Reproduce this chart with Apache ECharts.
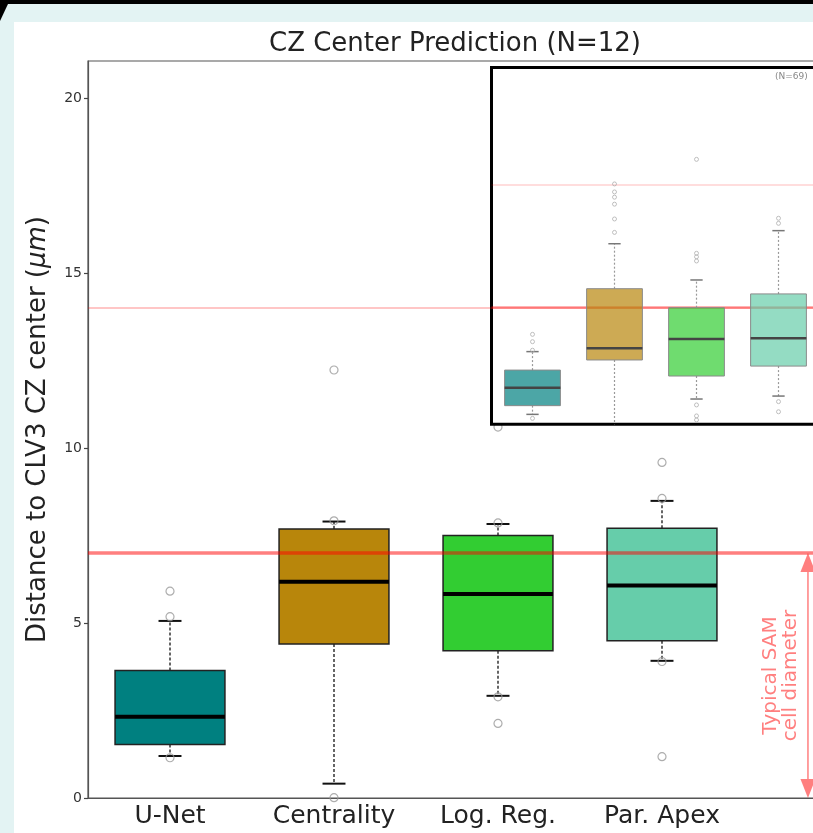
<!DOCTYPE html>
<html>
<head>
<meta charset="utf-8">
<script src="https://cdn.jsdelivr.net/npm/echarts@6/dist/echarts.min.js"></script>
<style>
  html, body { margin: 0; padding: 0; width: 813px; height: 833px; overflow: hidden; background: #e3f3f3; position: relative; }
  #topband { position: absolute; left: 0; top: 0; width: 813px; height: 4px; background: #000; }
  #corner { position: absolute; left: 0; top: 0; width: 8px; height: 21px; background: #000; clip-path: polygon(0 0, 100% 0, 100% 4px, 0 100%); }
  #chart { position: absolute; left: 14px; top: 22px; width: 900px; height: 811px; background: #fff; }
</style>
</head>
<body>
<div id="topband"></div>
<div id="corner"></div>
<div id="chart"></div>
<script>
// ---------- data ----------
const categories = ['U-Net', 'Centrality', 'Log. Reg.', 'Par. Apex'];
const yTicks = [0, 5, 10, 15, 20];
const cellDiameter = 7;           // typical SAM cell diameter (µm)

// main panel (N=12)
const mainWhiskerLow  = [1.20, 0.41, 2.92, 3.92];
const mainQ1          = [1.53, 4.40, 4.21, 4.49];
const mainMedian      = [2.32, 6.18, 5.83, 6.07];
const mainQ3          = [3.64, 7.69, 7.50, 7.71];
const mainWhiskerHigh = [5.06, 7.90, 7.83, 8.49];
const mainFliers = [
  [0, 5.91], [0, 5.18], [0, 1.15],
  [1, 12.23], [1, 7.92], [1, 0.01],
  [2, 10.60], [2, 7.86], [2, 2.89], [2, 2.13],
  [3, 9.59], [3, 8.56], [3, 3.90], [3, 1.18]
];

// inset panel (N=69)
const insetWhiskerLow  = [0.84, 0.10, 1.72, 1.89];
const insetQ1          = [1.34, 3.96, 3.04, 3.61];
const insetMedian      = [2.37, 4.63, 5.16, 5.20];
const insetQ3          = [3.38, 8.05, 6.96, 7.75];
const insetWhiskerHigh = [4.44, 10.63, 8.55, 11.38];
const insetFliers = [
  [0, 5.43], [0, 5.01], [0, 4.52], [0, 0.61],
  [1, 11.28], [1, 12.05], [1, 12.90], [1, 13.30], [1, 13.60], [1, 14.06],
  [2, 9.64], [2, 9.88], [2, 10.08], [2, 15.47], [2, 1.38], [2, 0.75], [2, 0.52],
  [3, 11.80], [3, 12.09], [3, 1.57], [3, 0.99]
];

// ---------- styles ----------
const FONT = 'DejaVu Sans';
const mainColors  = ['#008080', '#b8860b', '#32cd32', '#66cdaa'];
const insetColors = ['rgba(0,128,128,0.7)', 'rgba(184,134,11,0.7)', 'rgba(50,205,50,0.7)', 'rgba(102,205,170,0.7)'];

function boxRows(lo, q1, md, q3, hi) {
  return categories.map((c, i) => [i, lo[i], q1[i], md[i], q3[i], hi[i]]);
}

function makeBoxRenderer(cfg) {
  return function (params, api) {
    const i = api.value(0);
    const cs = params.coordSys;
    const clampY = y => Math.max(cs.y, Math.min(cs.y + cs.height, y));
    const pLo = api.coord([i, api.value(1)]);
    const pQ1 = api.coord([i, api.value(2)]);
    const pMd = api.coord([i, api.value(3)]);
    const pQ3 = api.coord([i, api.value(4)]);
    const pHi = api.coord([i, api.value(5)]);
    const band = api.size([1, 0])[0];
    const half = band * cfg.boxFrac / 2;
    const capHalf = band * cfg.capFrac / 2;
    const cx = pMd[0];
    const children = [
      { type: 'line', shape: { x1: cx, y1: pQ3[1], x2: cx, y2: clampY(pHi[1]) },
        style: { stroke: cfg.whisker, lineWidth: cfg.whiskerWidth, lineDash: cfg.dash } },
      { type: 'line', shape: { x1: cx, y1: pQ1[1], x2: cx, y2: clampY(pLo[1]) },
        style: { stroke: cfg.whisker, lineWidth: cfg.whiskerWidth, lineDash: cfg.dash } }
    ];
    [pHi, pLo].forEach(p => {
      if (p[1] >= cs.y && p[1] <= cs.y + cs.height) {
        children.push({ type: 'line', shape: { x1: cx - capHalf, y1: p[1], x2: cx + capHalf, y2: p[1] },
          style: { stroke: cfg.cap, lineWidth: cfg.capWidth } });
      }
    });
    children.push({ type: 'rect', shape: { x: cx - half, y: pQ3[1], width: 2 * half, height: pQ1[1] - pQ3[1] },
      style: { fill: cfg.colors[i], stroke: cfg.edge, lineWidth: cfg.edgeWidth } });
    children.push({ type: 'line', shape: { x1: cx - half, y1: pMd[1], x2: cx + half, y2: pMd[1] },
      style: { stroke: cfg.median, lineWidth: cfg.medianWidth } });
    return { type: 'group', children };
  };
}

const chart = echarts.init(document.getElementById('chart'), null, { renderer: 'canvas' });

const arrowX = 3.89, arrowTextX = 3.726;

const option = {
  animation: false,
  grid: [
    { left: 74, top: 39, width: 820, height: 737, show: true, borderColor: '#555', borderWidth: 1.2, backgroundColor: 'transparent' },
    { left: 477.5, top: 45.5, width: 410, height: 356.8, show: true, borderColor: '#000', borderWidth: 3, backgroundColor: '#fff', z: 5 }
  ],
  xAxis: [
    { type: 'category', gridIndex: 0, data: categories.concat(['']),
      axisLine: { onZero: false, lineStyle: { color: '#555', width: 1.2 } },
      axisTick: { alignWithLabel: true, length: 5, interval: (idx, val) => val !== '', lineStyle: { color: '#444', width: 1.2 } },
      axisLabel: { interval: 0, fontFamily: FONT, fontSize: 25, color: '#222', margin: 6 },
      splitLine: { show: false } },
    { type: 'value', gridIndex: 0, min: -0.5, max: 4.5, show: false },
    { type: 'category', gridIndex: 1, data: categories.concat(['']), show: false }
  ],
  yAxis: [
    { type: 'value', gridIndex: 0, min: 0, max: 21.06,
      name: 'Distance to CLV3 CZ center ({it|μm})', nameLocation: 'middle', nameGap: 37,
      nameTextStyle: { fontFamily: FONT, fontSize: 26, color: '#222', rich: { it: { fontFamily: FONT, fontSize: 26, fontStyle: 'italic', color: '#222' } } },
      axisLine: { show: true, onZero: false, lineStyle: { color: '#555', width: 1.2 } },
      axisTick: { show: true, length: 4, customValues: yTicks, lineStyle: { color: '#444', width: 1.2 } },
      axisLabel: { customValues: yTicks, fontFamily: FONT, fontSize: 14, color: '#333', margin: 6 },
      splitLine: { show: false } },
    { type: 'value', gridIndex: 1, min: 0.27, max: 20.74, show: false, splitLine: { show: false } }
  ],
  graphic: [
    { type: 'text', x: 441, y: 22, z: 20,
      style: { text: 'CZ Center Prediction (N=12)', font: '26px "DejaVu Sans"', fill: '#222', align: 'center', verticalAlign: 'middle' } },
    { type: 'text', x: 761, y: 55, z: 20,
      style: { text: '(N=69)', font: '9px "DejaVu Sans"', fill: '#888', align: 'left', verticalAlign: 'middle' } }
  ],
  series: [
    // main boxes
    { type: 'custom', xAxisIndex: 0, yAxisIndex: 0, z: 2,
      data: boxRows(mainWhiskerLow, mainQ1, mainMedian, mainQ3, mainWhiskerHigh),
      encode: { x: 0, y: [1, 2, 3, 4, 5] },
      renderItem: makeBoxRenderer({ boxFrac: 0.67, capFrac: 0.14, colors: mainColors, edge: '#222', edgeWidth: 1.5,
        whisker: '#333', whiskerWidth: 1.5, dash: [3, 2], cap: '#111', capWidth: 2, median: '#000', medianWidth: 4 }) },
    // main fliers
    { type: 'scatter', xAxisIndex: 0, yAxisIndex: 0, z: 3, data: mainFliers, symbol: 'circle', symbolSize: 8,
      itemStyle: { color: 'rgba(0,0,0,0)', borderColor: '#999', borderWidth: 1.2 } },
    // main reference lines
    { type: 'scatter', xAxisIndex: 0, yAxisIndex: 0, z: 4, data: [],
      markLine: { silent: true, symbol: 'none', label: { show: false },
        data: [
          { yAxis: cellDiameter, lineStyle: { color: 'rgba(255,0,0,0.5)', width: 3.5, type: 'solid' } },
          { yAxis: 2 * cellDiameter, lineStyle: { color: 'rgba(255,0,0,0.3)', width: 1.5, type: 'solid' } }
        ] } },
    // annotation arrow + text
    { type: 'custom', xAxisIndex: 1, yAxisIndex: 0, z: 4, data: [[arrowX, cellDiameter]],
      encode: { x: 0, y: 1 },
      renderItem: function (params, api) {
        const top = api.coord([api.value(0), api.value(1)]);
        const bot = api.coord([api.value(0), 0]);
        const txt = api.coord([arrowTextX, api.value(1) / 2]);
        const x = top[0], hl = 19, hw = 7.5, col = 'rgba(255,0,0,0.5)';
        return { type: 'group', children: [
          { type: 'line', shape: { x1: x, y1: top[1] + hl, x2: x, y2: bot[1] - hl }, style: { stroke: col, lineWidth: 1.5 } },
          { type: 'polygon', shape: { points: [[x, top[1]], [x - hw, top[1] + hl], [x + hw, top[1] + hl]] }, style: { fill: col } },
          { type: 'polygon', shape: { points: [[x, bot[1]], [x - hw, bot[1] - hl], [x + hw, bot[1] - hl]] }, style: { fill: col } },
          { type: 'text', x: txt[0], y: txt[1], rotation: Math.PI / 2,
            style: { text: 'Typical SAM\ncell diameter', font: '20px "DejaVu Sans"', lineHeight: 20, fill: col, align: 'center', verticalAlign: 'middle' } }
        ] };
      } },
    // inset boxes
    { type: 'custom', xAxisIndex: 2, yAxisIndex: 1, z: 6,
      data: boxRows(insetWhiskerLow, insetQ1, insetMedian, insetQ3, insetWhiskerHigh),
      encode: { x: 0, y: [1, 2, 3, 4, 5] },
      renderItem: makeBoxRenderer({ boxFrac: 0.68, capFrac: 0.15, colors: insetColors, edge: '#8a8a8a', edgeWidth: 1,
        whisker: '#999', whiskerWidth: 1.2, dash: [2, 2], cap: '#777', capWidth: 1.5, median: '#444', medianWidth: 2.5 }) },
    // inset fliers
    { type: 'scatter', xAxisIndex: 2, yAxisIndex: 1, z: 7, data: insetFliers, symbol: 'circle', symbolSize: 4,
      itemStyle: { color: 'rgba(0,0,0,0)', borderColor: '#b0b0b0', borderWidth: 1 } },
    // inset reference lines
    { type: 'scatter', xAxisIndex: 2, yAxisIndex: 1, z: 8, data: [],
      markLine: { silent: true, symbol: 'none', label: { show: false },
        data: [
          { yAxis: cellDiameter, lineStyle: { color: 'rgba(255,0,0,0.4)', width: 2.5, type: 'solid' } },
          { yAxis: 2 * cellDiameter, lineStyle: { color: 'rgba(255,0,0,0.18)', width: 1.5, type: 'solid' } }
        ] } }
  ]
};
chart.setOption(option);
</script>
</body>
</html>
